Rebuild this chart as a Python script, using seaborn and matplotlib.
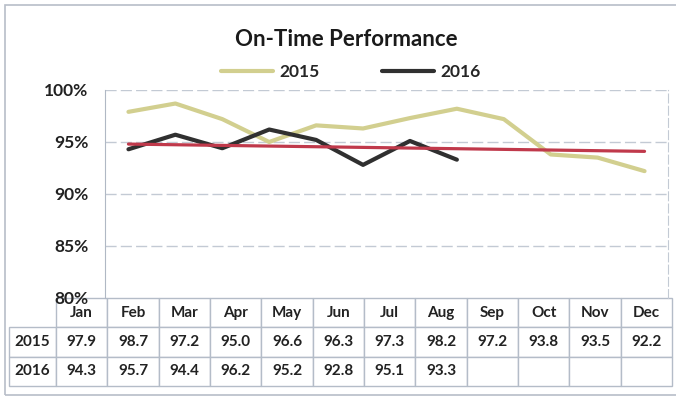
import numpy as np
import pandas as pd
import seaborn as sns
import matplotlib.pyplot as plt
from matplotlib.patches import Rectangle

months = ['Jan', 'Feb', 'Mar', 'Apr', 'May', 'Jun', 'Jul', 'Aug', 'Sep', 'Oct', 'Nov', 'Dec']
otp_2015 = [97.9, 98.7, 97.2, 95.0, 96.6, 96.3, 97.3, 98.2, 97.2, 93.8, 93.5, 92.2]
otp_2016 = [94.3, 95.7, 94.4, 96.2, 95.2, 92.8, 95.1, 93.3]
# red trend line, read at Jan and Dec
trend = [94.8, 94.1]
yticks = [80, 85, 90, 95, 100]

sns.set_style('white')
plt.rcParams['font.family'] = ['Lato', 'DejaVu Sans']

rows = []
for i, v in enumerate(otp_2015):
    rows.append({'pos': i, 'otp': v, 'year': '2015'})
for i, v in enumerate(otp_2016):
    rows.append({'pos': i, 'otp': v, 'year': '2016'})
df = pd.DataFrame(rows)

pal = {'2015': '#d2cf8f', '2016': '#303030'}

fig = plt.figure(figsize=(6.76, 4.05), dpi=100)
ax = fig.add_axes([105 / 676, 1 - 298 / 405, 563 / 676, 208 / 405])

sns.lineplot(data=df, x='pos', y='otp', hue='year', palette=pal, lw=3,
             sort=False, legend=False, ax=ax)
ax.plot([0, len(months) - 1], trend, color='#c0394b', lw=2.3, zorder=5)

ax.set_xlim(-0.5, len(months) - 0.5)
ax.set_ylim(80, 100)
ax.set_yticks(yticks)
ax.set_yticklabels([f'{t}%' for t in yticks], fontsize=12.5, fontweight='bold', color='#222222')
ax.set_xticks([])
ax.set_xlabel('')
ax.set_ylabel('')
ax.tick_params(axis='y', length=0, pad=12)
for t in yticks[1:]:
    ax.axhline(t, color='#c3cad4', lw=1, ls=(0, (8, 3)), zorder=0)

ax.spines['top'].set_visible(False)
ax.spines['bottom'].set_visible(False)
ax.spines['left'].set_color('#b0b8c4')
ax.spines['right'].set_color('#c3cad4')
ax.spines['right'].set_linestyle((0, (8, 3)))

# data table under the plot
cell_text = [[f'{v:.1f}' for v in otp_2015],
             [f'{v:.1f}' for v in otp_2016] + [''] * (len(months) - len(otp_2016))]
lab_w = 53 / 563
tbl = ax.table(cellText=cell_text, rowLabels=['2015', '2016'], colLabels=months,
               colWidths=[1 / 12] * 12, cellLoc='center', rowLoc='center',
               bbox=[-lab_w, -88 / 208, 1 + lab_w, 88 / 208])
tbl.auto_set_font_size(False)
for (r, c), cell in tbl.get_celld().items():
    if c == -1:
        cell.set_width(lab_w)
    cell.set_edgecolor('#b4bcc8')
    cell.set_linewidth(1)
    cell.get_text().set_fontsize(11)
    cell.get_text().set_fontweight('bold')
    cell.get_text().set_color('#222222')

fig.text(346 / 676, 1 - 40 / 405, 'On-Time Performance', ha='center', va='center',
         fontsize=16, fontweight='bold', color='#1a1a1a')

handles = ax.lines[:2]
fig.legend(handles, ['2015', '2016'], loc='center', bbox_to_anchor=(351 / 676, 1 - 72 / 405),
           ncol=2, frameon=False, handlelength=3.0, handletextpad=0.35, columnspacing=3.6,
           prop={'size': 12.5, 'weight': 'bold'})

fig.patches.append(Rectangle((5 / 676, 1 - 395 / 405), 1.0, 390 / 405, fill=False,
                             edgecolor='#b8bec8', lw=1.2, transform=fig.transFigure))

fig.savefig('out.png', dpi=100)
